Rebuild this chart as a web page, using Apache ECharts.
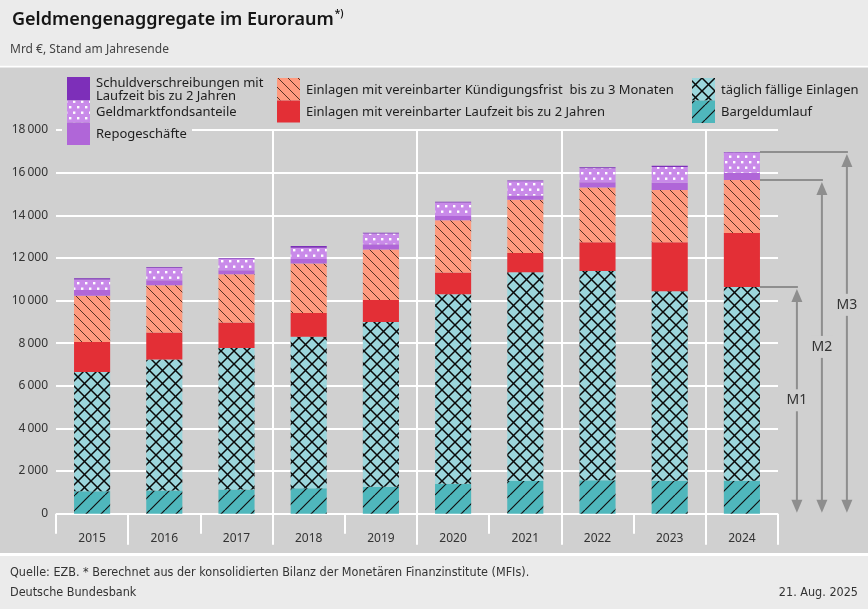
<!DOCTYPE html>
<html><head><meta charset="utf-8">
<script src="https://cdn.jsdelivr.net/npm/echarts/dist/echarts.min.js"></script>
<style>html,body{margin:0;padding:0;background:#d0d0d0}#c{width:868px;height:609px}</style>
</head><body><div id="c"></div><script>
// ---- data (Mrd €) ----
const years = ['2015','2016','2017','2018','2019','2020','2021','2022','2023','2024'];
const bargeld    = [1050,1090,1140,1190,1260,1410,1530,1570,1540,1550];
const taeglich   = [5600,6140,6630,7110,7730,8890,9800,9810,8900,9090];
const laufzeit   = [1400,1270,1200,1120,1030,1020, 900,1360,2300,2530];
const kuendigung = [2170,2220,2260,2320,2370,2450,2500,2560,2450,2480];
const repo       = [ 270, 230, 190, 210, 250, 200, 200, 250, 330, 350];
const geldmarkt  = [ 500, 580, 530, 530, 500, 630, 670, 650, 750, 940];
const schuldv    = [  50,  30,  30,  80,  40,  30,  30,  50,  50,  30];
const yTickLabels = ['0','2\u2009000','4\u2009000','6\u2009000','8\u2009000','10\u2009000','12\u2009000','14\u2009000','16\u2009000','18\u2009000'];

const FONT = '"Noto Sans", "Open Sans", sans-serif';
const NARROW = '"Liberation Sans Narrow", "DejaVu Sans Condensed", sans-serif';
const BG = '#d0d0d0';
const LIGHT = '#ebebeb';
const GRAY = '#8e8e8e';

// ---- patterns ----
function tile(w, h, bg, draw) {
  const c = document.createElement('canvas'); c.width = w; c.height = h;
  const ctx = c.getContext('2d'); ctx.fillStyle = bg; ctx.fillRect(0, 0, w, h);
  draw(ctx, w, h); return c;
}
function fwd(ctx, s) { ctx.beginPath(); for (const k of [-1,0,1]) { ctx.moveTo(k*s, s); ctx.lineTo(k*s+s, 0); } ctx.stroke(); }
function back(ctx, s) { ctx.beginPath(); for (const k of [-1,0,1]) { ctx.moveTo(k*s, 0); ctx.lineTo(k*s+s, s); } ctx.stroke(); }
const P = (c) => ({ image: c, repeat: 'repeat' });
const pat = {
  bargeld: P(tile(15, 15, '#4fb7bc', (ctx, s) => { ctx.strokeStyle = '#111'; ctx.lineWidth = 1.2; fwd(ctx, s); })),
  taeglich: P(tile(13, 13, '#9bd6dc', (ctx, s) => { ctx.strokeStyle = '#0a0a0a'; ctx.lineWidth = 1.5; fwd(ctx, s); back(ctx, s); })),
  kuend: P(tile(10, 10, '#fe9a7e', (ctx, s) => { ctx.strokeStyle = 'rgba(50,25,15,0.9)'; ctx.lineWidth = 0.9; back(ctx, s); })),
  gmf: P(tile(8, 11, '#c98ae9', (ctx) => { ctx.fillStyle = '#fff'; ctx.fillRect(1, 1.5, 2.4, 2.4); ctx.fillRect(5, 7, 2.4, 2.4); }))
};

const defs = [
  { name: 'Bargeldumlauf', data: bargeld, fill: pat.bargeld },
  { name: 'täglich fällige Einlagen', data: taeglich, fill: pat.taeglich },
  { name: 'Einlagen mit vereinbarter Laufzeit bis zu 2 Jahren', data: laufzeit, fill: '#e32f36' },
  { name: 'Einlagen mit vereinbarter Kündigungsfrist  bis zu 3 Monaten', data: kuendigung, fill: pat.kuend },
  { name: 'Repogeschäfte', data: repo, fill: '#b066d8' },
  { name: 'Geldmarktfondsanteile', data: geldmarkt, fill: pat.gmf },
  { name: 'Schuldverschreibungen mit Laufzeit bis zu 2 Jahren', data: schuldv, fill: '#7d2fb9' }
];

const last = years.length - 1;
const m1 = bargeld[last] + taeglich[last];
const m2 = m1 + laufzeit[last] + kuendigung[last];
const m3 = m2 + repo[last] + geldmarkt[last] + schuldv[last];

const barSeries = defs.map(d => ({
  type: 'bar', name: d.name, stack: 'total', data: d.data, barWidth: '50%',
  itemStyle: { color: d.fill }, emphasis: { disabled: true }, silent: true
}));

const bracketSeries = {
  type: 'custom', silent: true, z: 5,
  data: [[last, m1, m2, m3]],
  encode: { x: 0, y: 1 },
  renderItem: function (params, api) {
    const c = api.coord([api.value(0), 0]);
    const base = c[1];
    const half = api.size([1, 0])[0] * 0.25;
    const xr = c[0] + half;
    const offs = [55, 80, 105];
    const names = ['M1', 'M2', 'M3'];
    const lift = [0, 0, 28];
    const children = [];
    [1, 2, 3].forEach((dim, i) => {
      const yTop = api.coord([api.value(0), api.value(dim)])[1];
      const xa = c[0] + offs[i];
      children.push({ type: 'line', shape: { x1: xr, y1: yTop, x2: xa + 1, y2: yTop }, style: { stroke: GRAY, lineWidth: 2 } });
      children.push({ type: 'line', shape: { x1: xa, y1: yTop + 10, x2: xa, y2: base - 10 }, style: { stroke: GRAY, lineWidth: 2 } });
      children.push({ type: 'polygon', shape: { points: [[xa, yTop + 2], [xa - 5.5, yTop + 15], [xa + 5.5, yTop + 15]] }, style: { fill: GRAY } });
      children.push({ type: 'polygon', shape: { points: [[xa, base - 1], [xa - 5.5, base - 14], [xa + 5.5, base - 14]] }, style: { fill: GRAY } });
      children.push({ type: 'text', z2: 10, x: xa, y: (yTop + base) / 2 - lift[i],
        style: { text: names[i], fill: '#333', fontSize: 14, fontFamily: FONT, align: 'center', verticalAlign: 'middle', backgroundColor: BG, padding: [4, 1] } });
    });
    return { type: 'group', children };
  }
};

// ---- legend (graphic) ----
const legendItems = [
  { x: 67, y: 77, h: 23.5, fill: defs[6].fill, lines: [['Schuldverschreibungen mit', 83.5], ['Laufzeit bis zu 2 Jahren', 96.5]], tx: 96 },
  { x: 67, y: 100.5, h: 22, fill: defs[5].fill, lines: [['Geldmarktfondsanteile', 112.5]], tx: 96 },
  { x: 67, y: 122.5, h: 22.5, fill: defs[4].fill, lines: [['Repogeschäfte', 134.5]], tx: 96 },
  { x: 277, y: 78, h: 22.5, fill: defs[3].fill, lines: [[defs[3].name, 90]], tx: 306 },
  { x: 277, y: 100.5, h: 22, fill: defs[2].fill, lines: [[defs[2].name, 112]], tx: 306 },
  { x: 692, y: 78, h: 22.5, fill: defs[1].fill, lines: [[defs[1].name, 90]], tx: 721 },
  { x: 692, y: 100.5, h: 22.5, fill: defs[0].fill, lines: [[defs[0].name, 112]], tx: 721 }
];
const graphics = [
  { type: 'rect', z: 1, shape: { x: 0, y: 0, width: 868, height: 65.5 }, style: { fill: LIGHT } },
  { type: 'rect', z: 1, shape: { x: 0, y: 65.5, width: 868, height: 2 }, style: { fill: '#fff' } },
  { type: 'rect', z: 1, shape: { x: 0, y: 553, width: 868, height: 3 }, style: { fill: '#fff' } },
  { type: 'rect', z: 1, shape: { x: 0, y: 556, width: 868, height: 53 }, style: { fill: LIGHT } },
  { type: 'text', z: 2, x: 12, y: 20, style: {
      text: '{t|Geldmengenaggregate im Euroraum}{s|*)}', verticalAlign: 'middle',
      rich: { t: { fontSize: 18, fontWeight: 600, fontFamily: FONT, fill: '#151515', lineHeight: 22 },
              s: { fontSize: 10, fontWeight: 600, fontFamily: FONT, fill: '#151515', verticalAlign: 'top', lineHeight: 22, padding: [0, 0, 0, 1] } } } },
  { type: 'text', z: 2, x: 10, y: 50, style: { text: 'Mrd €, Stand am Jahresende', fontSize: 12, fontFamily: FONT, fill: '#444', verticalAlign: 'middle' } },
  { type: 'text', z: 2, x: 10, y: 573, style: { text: 'Quelle: EZB. * Berechnet aus der konsolidierten Bilanz der Monetären Finanzinstitute (MFIs).', fontSize: 12.5, fontFamily: NARROW, fill: '#333', verticalAlign: 'middle' } },
  { type: 'text', z: 2, x: 10, y: 593, style: { text: 'Deutsche Bundesbank', fontSize: 12.5, fontFamily: NARROW, fill: '#333', verticalAlign: 'middle' } },
  { type: 'text', z: 2, x: 858, y: 593, style: { text: '21. Aug. 2025', fontSize: 12.5, fontFamily: NARROW, fill: '#333', align: 'right', verticalAlign: 'middle' } },
  { type: 'rect', z: 50, shape: { x: 62, y: 121, width: 130, height: 27 }, style: { fill: BG } }
];
legendItems.forEach(it => {
  graphics.push({ type: 'rect', z: 60, shape: { x: it.x, y: it.y, width: 23, height: it.h }, style: { fill: it.fill } });
  it.lines.forEach(l => graphics.push({ type: 'text', z: 60, x: it.tx, y: l[1],
    style: { text: l[0], fontSize: 13, fontFamily: FONT, fill: '#1e1e1e', verticalAlign: 'middle' } }));
});

const chart = echarts.init(document.getElementById('c'), null, { renderer: 'canvas', width: 868, height: 609 });
chart.setOption({
  animation: false,
  backgroundColor: BG,
  grid: { left: 56, right: 90, top: 130, bottom: 95.3, containLabel: false },
  xAxis: [
    { type: 'category', data: years, position: 'bottom', offset: 11,
      axisLine: { show: false },
      axisTick: { show: true, length: 20, lineStyle: { color: '#fff', width: 2 } },
      axisLabel: { margin: 8, color: '#333', fontSize: 12, fontFamily: FONT },
      splitLine: { show: false } },
    { type: 'category', data: years, position: 'bottom', offset: 0,
      axisLine: { show: false },
      axisTick: { show: true, length: 31, interval: (i) => i % 2 === 1, lineStyle: { color: '#fff', width: 2 } },
      axisLabel: { show: false },
      splitLine: { show: true, interval: (i) => i % 2 === 1, showMinLine: false, showMaxLine: false, lineStyle: { color: '#fff', width: 2 } } }
  ],
  yAxis: { type: 'value', min: 0, max: 18000, interval: 2000,
    axisLine: { show: false }, axisTick: { show: false },
    axisLabel: { margin: 8, color: '#333', fontSize: 12, fontFamily: FONT, formatter: (v) => yTickLabels[Math.round(v / 2000)] },
    splitLine: { show: true, lineStyle: { color: '#fff', width: 2 } } },
  graphic: graphics,
  series: barSeries.concat([bracketSeries])
});
</script></body></html>
